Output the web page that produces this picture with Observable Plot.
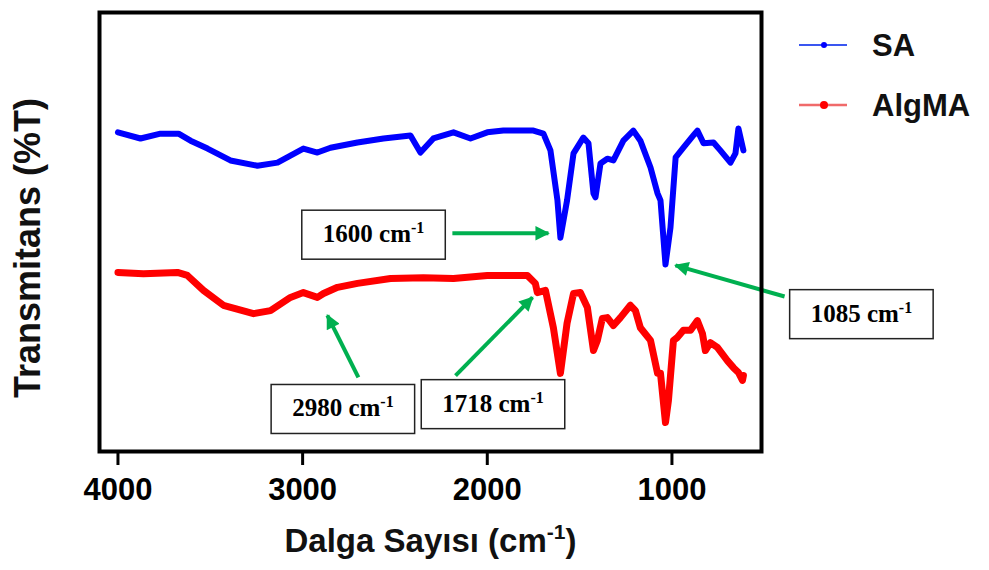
<!DOCTYPE html>
<html><head><meta charset="utf-8">
<script src="https://cdn.jsdelivr.net/npm/d3@7"></script>
<script src="https://cdn.jsdelivr.net/npm/@observablehq/plot@0.6"></script>
<style>
body{margin:0;background:#fff;}
#wrap{position:relative;width:989px;height:570px;}
#legend{position:absolute;left:0;top:0;pointer-events:none;}
</style></head><body><div id="wrap"></div>
<script>
// ---- data ----
const seriesNames = ["SA", "AlgMA"];
const seriesColors = ["#0000ff", "#ff0000"];
const legendColors = ["#3a56f0", "#f06a6a"];

const saWavenumber = [4000,3878,3770,3672,3607,3515,3391,3245,3136,3066,2996,2920,2849,2703,2562,2416,2362,2292,2183,2091,2000,1913,1750,1696,1658,1620,1604,1568,1533,1480,1452,1425,1414,1387,1350,1317,1263,1209,1171,1116,1078,1062,1035,1008,980,938,884,862,829,775,738,683,656,640,613];
const saT = [72.7,71.3,72.4,72.4,70.8,69.0,66.3,65.1,65.8,67.4,69.0,68.1,69.2,70.4,71.3,72.0,68.1,71.3,72.7,71.3,72.7,73.1,73.1,72.4,68.6,57.2,48.7,57.2,67.9,71.5,70.2,58.8,57.9,65.6,66.7,66.3,70.8,73.1,70.8,64.7,58.8,57.2,42.6,51.0,67.0,69.2,72.0,73.1,70.2,70.4,68.6,65.8,67.9,73.6,68.6];

const algWavenumber = [4000,3862,3678,3624,3537,3429,3266,3174,3066,2996,2920,2887,2811,2703,2524,2346,2183,2000,1783,1740,1729,1685,1642,1604,1568,1533,1496,1458,1425,1404,1377,1350,1317,1279,1225,1198,1171,1116,1078,1062,1035,1019,992,970,938,900,862,835,819,792,754,700,667,640,618,613];
const algT = [40.8,40.5,40.8,40.1,36.7,33.3,31.4,32.1,35.1,36.2,35.1,36.0,37.4,38.3,39.4,39.6,39.4,40.1,40.1,38.3,36.2,36.7,28.2,17.8,29.2,36.0,36.2,32.8,23.0,25.3,30.3,30.5,28.7,30.5,33.3,32.1,28.2,25.3,17.8,17.8,6.6,11.6,25.3,26.0,27.6,27.6,29.8,26.9,23.0,24.8,23.7,20.7,19.1,18.0,16.2,17.3];

const xTicks = [4000, 3000, 2000, 1000];

// annotations: label, box centre (wavenumber, %T), arrow tail and tip
const annLabel = ["1600 cm", "1085 cm", "2980 cm", "1718 cm"];
const annSup = "-1";
const annBoxX = [2616, -26, 2782, 1969];
const annBoxY = [49.5, 31.4, 9.8, 10.9];
const arrowX1 = [2189, 390, 2698, 2172];
const arrowY1 = [49.7, 35.3, 16.9, 17.3];
const arrowX2 = [1669, 981, 2866, 1755];
const arrowY2 = [49.7, 42.4, 31.0, 35.1];

// ---- build tables ----
const saData = saWavenumber.map((w, i) => ({w, t: saT[i]}));
const algData = algWavenumber.map((w, i) => ({w, t: algT[i]}));
const ann = annLabel.map((label, i) => ({label, x: annBoxX[i], y: annBoxY[i]}));
const arrows = arrowX1.map((x1, i) => ({x1, y1: arrowY1[i], x2: arrowX2[i], y2: arrowY2[i]}));

const sans = "'Liberation Sans', Arial, Helvetica, sans-serif";
const serif = "'Liberation Serif', 'Times New Roman', serif";

const plot = Plot.plot({
  width: 989,
  height: 570,
  marginLeft: 99,
  marginRight: 228,
  marginTop: 12,
  marginBottom: 119,
  style: {fontFamily: sans, background: "white", color: "black", overflow: "visible"},
  x: {domain: [4100, 515], axis: null, label: null},
  y: {domain: [0, 100], axis: null, label: null},
  marks: [
    Plot.line(saData, {x: "w", y: "t", stroke: seriesColors[0], strokeWidth: 6, strokeLinejoin: "round", strokeLinecap: "round"}),
    Plot.line(algData, {x: "w", y: "t", stroke: seriesColors[1], strokeWidth: 7, strokeLinejoin: "round", strokeLinecap: "round"}),
    Plot.link(arrows, {x1: "x1", y1: "y1", x2: "x2", y2: "y2", stroke: "#00b050", strokeWidth: 4}),
    Plot.text(ann, {x: "x", y: "y", text: "label", fontFamily: serif, fontWeight: "bold", fontSize: 25, fill: "black", lineAnchor: "middle", textAnchor: "middle"}),
    Plot.frame({stroke: "black", strokeWidth: 4}),
    Plot.axisX({ticks: xTicks, tickSize: 14, tickPadding: 12, strokeWidth: 3, fontSize: 31, fontWeight: "bold", tickFormat: d => String(d), label: null, fill: "black"}),
    Plot.text(["Dalga Sayısı (cm"], {frameAnchor: "bottom", dy: 90, fontSize: 33, fontWeight: "bold", lineAnchor: "middle", textAnchor: "middle", fill: "#111"}),
    Plot.text(["Transmitans (%T)"], {frameAnchor: "left", dx: -71, dy: 16, rotate: -90, fontSize: 36, fontWeight: "bold", lineAnchor: "middle", textAnchor: "middle", fill: "#111"})
  ]
});

const wrap = document.getElementById("wrap");
wrap.appendChild(plot);
const svg = d3.select(plot);

// arrowheads (filled triangles)
svg.insert("defs", ":first-child").append("marker")
  .attr("id", "greenHead").attr("viewBox", "0 0 10 10").attr("refX", 9).attr("refY", 5)
  .attr("markerWidth", 4.2).attr("markerHeight", 3.6).attr("orient", "auto").attr("markerUnits", "strokeWidth")
  .append("path").attr("d", "M0,0L10,5L0,10Z").attr("fill", "#00b050");
svg.selectAll('g[aria-label="link"] path, g[aria-label="link"] line').attr("marker-end", "url(#greenHead)");

// superscripts + boxes for annotations
svg.selectAll('g[aria-label="text"][font-size="25"] text').each(function() {
  const t = d3.select(this);
  const main = t.text();
  t.text(null);
  t.append("tspan").text(main);
  t.append("tspan").attr("font-size", 16).attr("dy", -9).text(annSup);
  const bb = this.getBBox();
  d3.select(this.parentNode).insert("rect", () => this)
    .attr("transform", t.attr("transform"))
    .attr("x", bb.x - 21).attr("width", bb.width + 42)
    .attr("y", -24).attr("height", 49)
    .attr("fill", "white").attr("stroke", "#222").attr("stroke-width", 1.5);
});

// x label superscript
svg.selectAll('g[aria-label="text"][font-size="33"] text').each(function() {
  const t = d3.select(this);
  const main = t.text();
  t.text(null);
  t.append("tspan").text(main);
  t.append("tspan").attr("font-size", 21).attr("dy", -13).text("-1");
  t.append("tspan").attr("dy", 13).text(")");
});

// legend
const lg = d3.select(wrap).append("svg").attr("id", "legend").attr("width", 989).attr("height", 570)
  .style("font-family", sans);
const legendY = [45, 105];
seriesNames.forEach((name, i) => {
  const g = lg.append("g").attr("transform", `translate(0,${legendY[i]})`);
  g.append("line").attr("x1", 799).attr("x2", 847).attr("y1", 0).attr("y2", 0)
    .attr("stroke", legendColors[i]).attr("stroke-width", i === 0 ? 2 : 2.5);
  g.append("circle").attr("cx", 824).attr("cy", 0).attr("r", i === 0 ? 3 : 4).attr("fill", seriesColors[i]);
  g.append("text").attr("x", 872).attr("y", 11).attr("font-size", 31).attr("font-weight", "bold").attr("fill", "#111").text(name);
});
</script></body></html>
